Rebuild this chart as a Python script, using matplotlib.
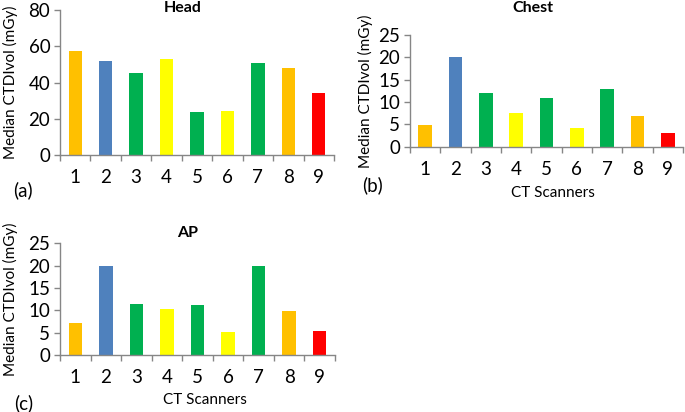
import matplotlib
matplotlib.use("Agg")
import matplotlib.pyplot as plt
from matplotlib.ticker import FixedLocator

plt.rcParams['font.family'] = ['Lato', 'DejaVu Sans']

scanners = ['1', '2', '3', '4', '5', '6', '7', '8', '9']
head = [57.5, 52, 45, 53, 23.5, 24.5, 50.8, 48, 34]
chest = [4.9, 20, 12, 7.5, 11, 4.1, 12.9, 6.8, 3.0]
ap = [7.1, 20, 11.4, 10.3, 11.3, 5.1, 19.9, 9.85, 5.3]
colors = ['#FFC000', '#4F81BD', '#00B050', '#FFFF00', '#00B050',
          '#FFFF00', '#00B050', '#FFC000', '#FF0000']

W, H = 685, 412
fig = plt.figure(figsize=(W / 100, H / 100), dpi=100)
spine_c = '#868686'


def make_ax(left, right, top, bottom, vals, ymax, ystep, title, tx, ty,
            ylab_x, xlab, label, lx, ly):
    ax = fig.add_axes([left / W, (H - bottom) / H, (right - left) / W, (bottom - top) / H])
    x = list(range(1, len(vals) + 1))
    ax.bar(x, vals, width=0.44, color=colors, edgecolor='none')
    ax.set_xlim(0.5, len(vals) + 0.5)
    ax.set_ylim(0, ymax)
    ax.set_yticks(range(0, ymax + 1, ystep))
    ax.set_xticks(x)
    ax.set_xticklabels(scanners)
    ax.xaxis.set_minor_locator(FixedLocator([i + 0.5 for i in range(0, len(vals) + 1)]))
    ax.tick_params(axis='x', which='major', length=0, pad=10, labelsize=13.5)
    ax.tick_params(axis='x', which='minor', length=4, color=spine_c, width=1)
    ax.tick_params(axis='y', length=4, color=spine_c, width=1, labelsize=13.5, pad=3)
    for s in ['top', 'right']:
        ax.spines[s].set_visible(False)
    for s in ['left', 'bottom']:
        ax.spines[s].set_color(spine_c)
        ax.spines[s].set_linewidth(1)
    fig.text(tx / W, 1 - ty / H, title, ha='center', va='center', fontsize=11.5, fontweight='bold')
    fig.text(ylab_x / W, 1 - ((top + bottom) / 2) / H, 'Median CTDIvol (mGy)', rotation=90,
             ha='center', va='center', fontsize=11)
    if xlab:
        fig.text(xlab[0] / W, 1 - xlab[1] / H, 'CT Scanners', ha='center', va='center', fontsize=11)
    fig.text(lx / W, 1 - ly / H, label, ha='left', va='center', fontsize=13.5)
    return ax


make_ax(60, 334, 10, 155, head, 80, 20, 'Head', 183, 8, 10, None, '(a)', 13, 190)
make_ax(410, 683, 35, 146.7, chest, 25, 5, 'Chest', 533, 8, 365, (553, 193), '(b)', 362, 185)
make_ax(60, 335, 243.3, 355, ap, 25, 5, 'AP', 188, 233, 10, (205, 400), '(c)', 14, 403)

fig.savefig('out.png', dpi=100)
